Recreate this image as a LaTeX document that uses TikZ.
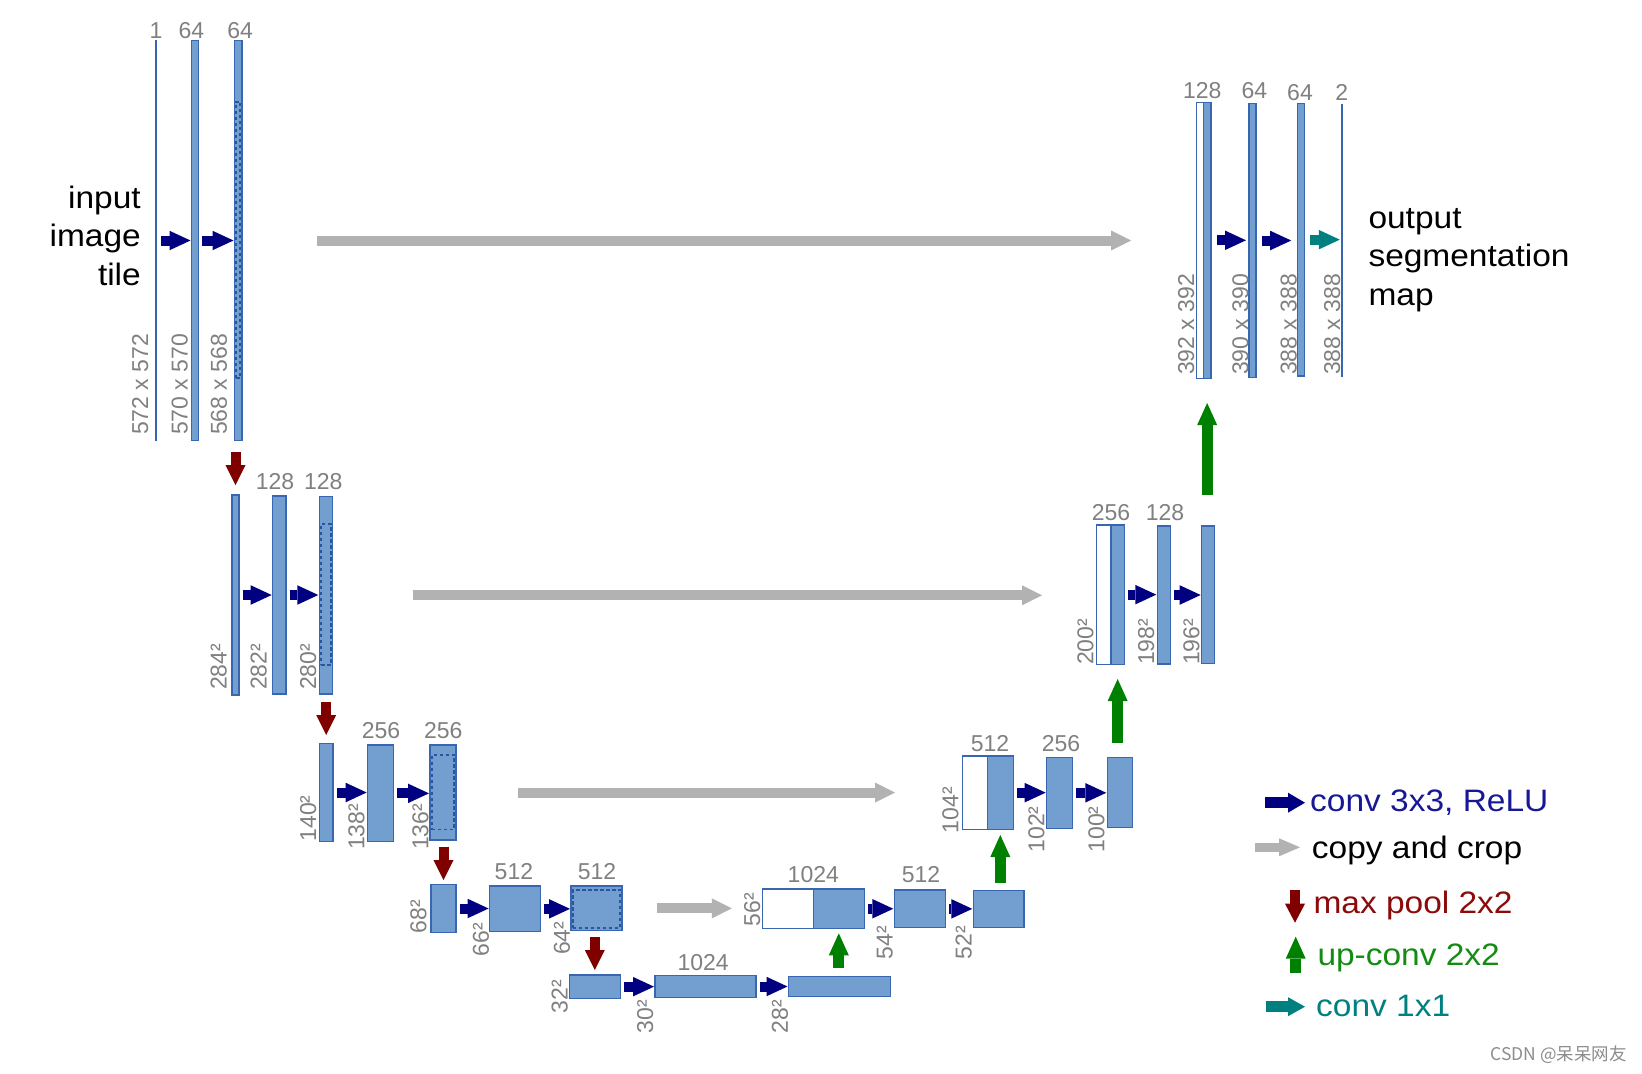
\documentclass[tikz,border=0pt]{standalone}
\usepackage{fontspec}
\setmainfont{Liberation Sans}
\newfontfamily\widefont[FakeStretch=1.08]{Liberation Sans}
\newfontfamily\cjkfont{Noto Sans CJK SC}
\usetikzlibrary{arrows.meta}
\definecolor{barfill}{RGB}{114,159,207}
\definecolor{barline}{RGB}{56,102,176}
\definecolor{cropline}{RGB}{40,86,160}
\definecolor{labgray}{RGB}{128,128,128}
\definecolor{cpgray}{RGB}{178,178,178}
\definecolor{convblue}{RGB}{0,0,128}
\definecolor{poolred}{RGB}{128,0,0}
\definecolor{upgreen}{RGB}{0,128,0}
\definecolor{oneteal}{RGB}{0,128,128}
\definecolor{legblue}{RGB}{24,24,150}
\definecolor{legred}{RGB}{140,10,10}
\definecolor{leggreen}{RGB}{20,140,20}
\definecolor{legteal}{RGB}{0,128,128}
\newcommand\ubox[6][]{\node[ubar,#1,minimum width={#4-#2},minimum height={#5-#3}] (#6) at ({(#2+#4)/2},{(#3+#5)/2}) {};}
\begin{document}
\begin{tikzpicture}[x=1pt,y=-1pt,
  ubar/.style={draw=barline,fill=barfill,line width=1.2pt,inner sep=0pt,outer sep=0pt},
  whitebar/.style={fill=white},
  thinbar/.style={draw=none,fill=barline},
  cropbox/.style={draw=cropline,fill=none,line width=1.8pt,dash pattern=on 3.5pt off 2.5pt},
  conv/.style={draw=convblue,line width=10pt,-{Triangle[length=21pt,width=19.5pt,line width=0pt]},shorten <=3.5pt,shorten >=1pt},
  one/.style={draw=oneteal,line width=10pt,-{Triangle[length=21pt,width=19.5pt,line width=0pt]},shorten <=5.5pt,shorten >=1.5pt},
  copy/.style={draw=cpgray,line width=10pt,-{Triangle[length=20pt,width=20pt,line width=0pt]}},
  pool/.style={draw=poolred,line width=10pt,-{Triangle[length=20pt,width=20pt,line width=0pt]}},
  upc/.style={draw=upgreen,line width=11pt,-{Triangle[length=22pt,width=20pt,line width=0pt]}},
  toplab/.style={font=\fontsize{23}{27}\selectfont,text=labgray,inner sep=0pt,anchor=base},
  rotlab/.style={font=\fontsize{23}{27}\selectfont,text=labgray,inner sep=0pt,rotate=90,anchor=base west},
  bigtext/.style={font=\widefont\fontsize{31}{38}\selectfont,text=black,inner sep=0pt},
  legtext/.style={font=\widefont\fontsize{31}{38}\selectfont,inner sep=0pt,anchor=base west}
]
\useasboundingbox (0,0) rectangle (1642,1074);
\fill[white] (0,0) rectangle (1642,1074);

% ---------------- encoder level 1
\ubox[thinbar]{155}{40}{157}{441}{e11}
\ubox{191.5}{40.5}{198.5}{440.5}{e12}
\ubox{234.5}{40.5}{242}{440.5}{e13}
\ubox[cropbox]{236.2}{101.7}{240.3}{378.3}{c1}
% level 2
\ubox{232}{495}{239}{695}{e21}
\ubox{272.7}{496}{286}{694}{e22}
\ubox{319.3}{496.7}{332.3}{694}{e23}
\ubox[cropbox]{321}{524}{330.6}{665}{c2}
% level 3
\ubox{319.3}{743.3}{333}{841.7}{e31}
\ubox{367.7}{745}{393.7}{841.7}{e32}
\ubox{430}{745}{456}{840}{e33}
\ubox[cropbox]{431.8}{755}{454.2}{829.5}{c3}
% level 4
\ubox{431}{884.3}{456}{932.7}{e41}
\ubox{489.6}{886}{540.7}{931.7}{e42}
\ubox{571}{886}{622}{930.7}{e43}
\ubox[cropbox]{572.8}{890}{620.2}{928}{c4}
% level 5
\ubox{569.3}{975}{620.4}{998.3}{b1}
\ubox{655}{975.7}{756}{997.3}{b2}
\ubox{788.5}{976.5}{890.5}{996.5}{b3}
% decoder level 4
\ubox[whitebar]{762.7}{889}{813.3}{928.5}{d4w}
\ubox{813.3}{889}{864.3}{928.5}{d4c}
\ubox{894.3}{890}{945.7}{927.7}{d42}
\ubox{973.3}{890.7}{1024}{927.7}{d43}
% decoder level 3
\ubox[whitebar]{962.3}{756}{987.3}{829.3}{d3w}
\ubox{987.3}{756}{1013.3}{829.3}{d3c}
\ubox{1046.7}{757.3}{1072.7}{828.3}{d32}
\ubox{1107.3}{757.3}{1132.3}{827.7}{d33}
% decoder level 2
\ubox[whitebar]{1096.7}{525}{1111}{664.3}{d2w}
\ubox{1111}{525}{1124.3}{664.3}{d2c}
\ubox{1157.3}{526}{1170.7}{664}{d22}
\ubox{1201.7}{526}{1214.3}{663.3}{d23}
% decoder level 1
\ubox[whitebar]{1196.7}{102.3}{1203.3}{378.3}{d1w}
\ubox{1203.3}{102.3}{1211}{378.3}{d1c}
\ubox{1249}{103.3}{1256}{377.7}{d12}
\ubox{1297.7}{103.3}{1304.3}{376}{d13}
\ubox[thinbar]{1341.3}{104}{1343.3}{376.7}{d14}

% ---------------- conv 3x3 arrows
\draw[conv] (e11.east) -- (e11.east -| e12.west);
\draw[conv] (e12.east) -- (e12.east -| e13.west);
\draw[conv] (e21.east) -- (e21.east -| e22.west);
\draw[conv] (e22.east) -- (e22.east -| e23.west);
\draw[conv] (e31.east) -- (e31.east -| e32.west);
\draw[conv] (e32.east) -- (e32.east -| e33.west);
\draw[conv] (e41.east) -- (e41.east -| e42.west);
\draw[conv] (e42.east) -- (e42.east -| e43.west);
\draw[conv] (b1.east) -- (b1.east -| b2.west);
\draw[conv] (b2.east) -- (b2.east -| b3.west);
\draw[conv] (d4c.east) -- (d4c.east -| d42.west);
\draw[conv] (d42.east) -- (d42.east -| d43.west);
\draw[conv] (d3c.east) -- (d3c.east -| d32.west);
\draw[conv] (d32.east) -- (d32.east -| d33.west);
\draw[conv] (d2c.east) -- (d2c.east -| d22.west);
\draw[conv] (d22.east) -- (d22.east -| d23.west);
\draw[conv,shorten <=5.5pt,shorten >=3pt] (d1c.east) -- (d1c.east -| d12.west);
\draw[conv,shorten <=5.5pt,shorten >=6.5pt] (d12.east) -- (d12.east -| d13.west);
\draw[one] (d13.east) -- (d13.east -| d14.west);

% ---------------- copy and crop
\draw[copy,shorten <=75pt,shorten >=65.7pt] (e13.east) -- (e13.east -| d1w.west);
\draw[copy,shorten <=80.3pt,shorten >=54.7pt] (e23.east) -- (e23.east -| d2w.west);
\draw[copy,shorten <=62.4pt,shorten >=67.3pt] (e33.east) -- (e33.east -| d3w.west);
\draw[copy,shorten <=34.8pt,shorten >=30.9pt] (e43.east) -- (e43.east -| d4w.west);

% ---------------- max pool
\draw[pool,shorten <=11pt,shorten >=10pt] (e21.north |- e13.south) -- (e21.north);
\draw[pool,shorten <=8.3pt,shorten >=8.3pt] (e31.north |- e23.south) -- (e31.north);
\draw[pool,shorten <=6.7pt,shorten >=4.3pt] (e41.north |- e33.south) -- (e41.north);
\draw[pool,shorten <=6.6pt,shorten >=5pt] (b1.north |- e43.south) -- (b1.north);

% ---------------- up-conv
\draw[upc,shorten <=8.2pt,shorten >=4.8pt] (d4c.south |- b3.north) -- (d4c.south);
\draw[upc,shorten <=8pt,shorten >=5.7pt] (d3c.south |- d43.north) -- (d3c.south);
\draw[upc,shorten <=14.3pt,shorten >=14.7pt] (d2c.south |- d33.north) -- (d2c.south);
\draw[upc,shorten <=31pt,shorten >=24.7pt] (d1c.south |- d23.north) -- (d1c.south);

% ---------------- channel labels
\node[toplab] (t1) at (156,38.3) {1};
\node[toplab] (t2) at (191.4,38.3) {64};
\node[toplab] (t3) at (240.2,38.3) {64};
\node[toplab] (t4) at (275,489.3) {128};
\node[toplab] (t5) at (323.3,489.3) {128};
\node[toplab] (t6) at (381,738.3) {256};
\node[toplab] (t7) at (443.3,738.3) {256};
\node[toplab] (t8) at (513.9,879.3) {512};
\node[toplab] (t9) at (597.1,879.3) {512};
\node[toplab] (t10) at (703.2,970) {1024};
\node[toplab] (t11) at (813.3,882.7) {1024};
\node[toplab] (t12) at (921,882.7) {512};
\node[toplab] (t13) at (990,751.7) {512};
\node[toplab] (t14) at (1061,751.7) {256};
\node[toplab] (t15) at (1111,520) {256};
\node[toplab] (t16) at (1165,520) {128};
\node[toplab] (t17) at (1202.3,98.3) {128};
\node[toplab] (t18) at (1254.3,98.3) {64};
\node[toplab] (t19) at (1300,100) {64};
\node[toplab] (t20) at (1341.7,100) {2};

% ---------------- size labels
\node[rotlab] (r1) at (148.2,435) {572 x 572};
\node[rotlab] (r2) at (187.5,435) {570 x 570};
\node[rotlab] (r3) at (226.8,435) {568 x 568};
\node[rotlab] (r4) at (226.7,690) {284²};
\node[rotlab] (r5) at (266.7,690) {282²};
\node[rotlab] (r6) at (316,690) {280²};
\node[rotlab] (r7) at (316,841.7) {140²};
\node[rotlab] (r8) at (364.3,850) {138²};
\node[rotlab] (r9) at (428.3,850) {136²};
\node[rotlab] (r10) at (426.4,933.3) {68²};
\node[rotlab] (r11) at (488.9,956.7) {66²};
\node[rotlab] (r12) at (569.8,955) {64²};
\node[rotlab] (r13) at (567.5,1013.3) {32²};
\node[rotlab] (r14) at (653.2,1033.3) {30²};
\node[rotlab] (r15) at (787.9,1033.3) {28²};
\node[rotlab] (r16) at (760,926.7) {56²};
\node[rotlab] (r17) at (892.7,959.3) {54²};
\node[rotlab] (r18) at (971.7,959.3) {52²};
\node[rotlab] (r19) at (958.3,833.3) {104²};
\node[rotlab] (r20) at (1044.3,852.7) {102²};
\node[rotlab] (r21) at (1104.3,852.7) {100²};
\node[rotlab] (r22) at (1093.3,665) {200²};
\node[rotlab] (r23) at (1154,665) {198²};
\node[rotlab] (r24) at (1199.3,665) {196²};
\node[rotlab] (r25) at (1194,375) {392 x 392};
\node[rotlab] (r26) at (1248.3,375) {390 x 390};
\node[rotlab] (r27) at (1296.7,375) {388 x 388};
\node[rotlab] (r28) at (1340,375) {388 x 388};

% ---------------- input / output text
\node[bigtext,anchor=base east] (in1) at (141,208.3) {input};
\node[bigtext,anchor=base east] (in2) at (141,246.7) {image};
\node[bigtext,anchor=base east] (in3) at (141,285) {tile};
\node[bigtext,anchor=base west] (out1) at (1368.3,228.3) {output};
\node[bigtext,anchor=base west] (out2) at (1368.3,266.7) {segmentation};
\node[bigtext,anchor=base west] (out3) at (1368.3,305) {map};

% ---------------- legend
\node[legtext,text=legblue] (lg1) at (1310,811.7) {conv 3x3, ReLU};
\node[legtext,text=black] (lg2) at (1311.7,858.3) {copy and crop};
\node[legtext,text=legred] (lg3) at (1313.3,913.3) {max pool 2x2};
\node[legtext,text=leggreen] (lg4) at (1317.3,965) {up-conv 2x2};
\node[legtext,text=legteal] (lg5) at (1316,1016) {conv 1x1};
\draw[draw=convblue,line width=11pt,-{Triangle[length=17pt,width=20pt,line width=0pt]}]
  ([xshift=-45pt,yshift=9pt]lg1.base west) -- ([xshift=-5pt,yshift=9pt]lg1.base west);
\draw[draw=cpgray,line width=9pt,-{Triangle[length=21pt,width=18pt,line width=0pt]}]
  ([xshift=-56.7pt,yshift=11pt]lg2.base west) -- ([xshift=-11.7pt,yshift=11pt]lg2.base west);
\draw[draw=poolred,line width=10pt,-{Triangle[length=19pt,width=20pt,line width=0pt]}]
  ([xshift=-18.3pt,yshift=23.3pt]lg3.base west) -- ([xshift=-18.3pt,yshift=-9.4pt]lg3.base west);
\draw[draw=upgreen,line width=10.5pt,-{Triangle[length=22pt,width=20pt,line width=0pt]}]
  ([xshift=-21.6pt,yshift=-8.3pt]lg4.base west) -- ([xshift=-21.6pt,yshift=28.3pt]lg4.base west);
\draw[draw=oneteal,line width=11pt,-{Triangle[length=17pt,width=19pt,line width=0pt]}]
  ([xshift=-50pt,yshift=9.3pt]lg5.base west) -- ([xshift=-11pt,yshift=9.3pt]lg5.base west);

% ---------------- watermark
\node[font=\cjkfont\fontsize{17.5}{20}\selectfont,text=black!45,inner sep=0pt,anchor=east] (wm) at (1627,1055) {CSDN @呆呆网友};
\end{tikzpicture}
\end{document}
